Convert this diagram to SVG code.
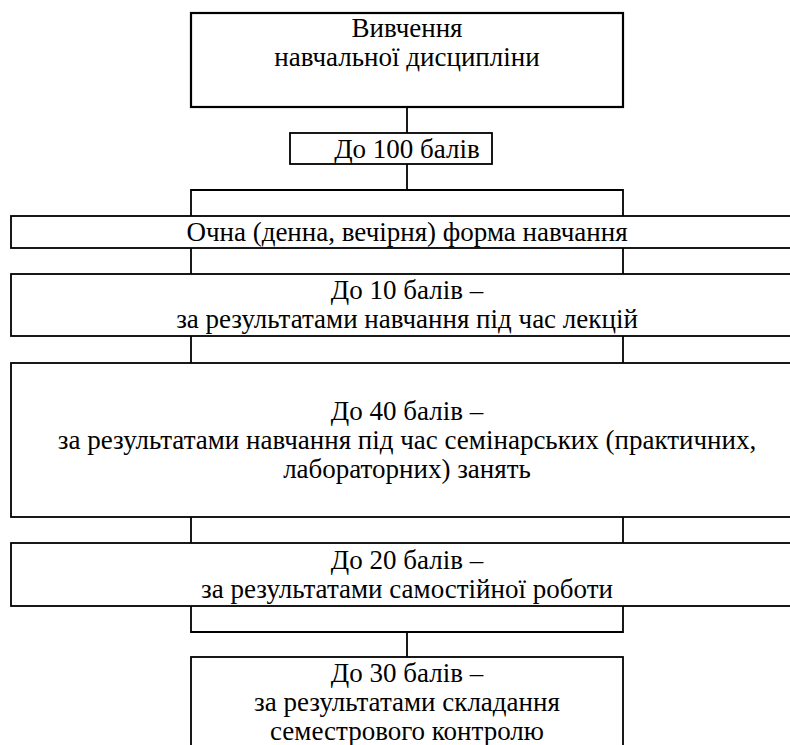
<svg xmlns="http://www.w3.org/2000/svg" width="790" height="745" viewBox="0 0 790 745">
<style>
.b{fill:#fff;stroke:#000;stroke-width:1.8}
.c{fill:none;stroke:#000;stroke-width:1.8}
.t{font-family:"Liberation Serif","Times New Roman","DejaVu Serif",serif;font-size:27px;fill:#000;text-anchor:middle}
</style>
<rect width="790" height="745" fill="#fff"/>
<g id="connectors">
<line class="c" x1="407" y1="107" x2="407" y2="133"/>
<line class="c" x1="407" y1="164" x2="407" y2="190"/>
<polyline class="c" points="191,216 191,190 623,190 623,216"/>
<line class="c" x1="191" y1="248" x2="191" y2="274"/>
<line class="c" x1="623" y1="248" x2="623" y2="274"/>
<line class="c" x1="191" y1="336" x2="191" y2="363"/>
<line class="c" x1="623" y1="336" x2="623" y2="363"/>
<line class="c" x1="191" y1="517" x2="191" y2="543"/>
<line class="c" x1="623" y1="517" x2="623" y2="543"/>
<polyline class="c" points="191,606 191,632 623,632 623,606"/>
<line class="c" x1="407" y1="632" x2="407" y2="657"/>
</g>
<g id="n1">
<rect class="b" x="191" y="13" width="432" height="94" style="stroke-width:2.2"/>
<text class="t" x="407" y="37">Вивчення</text>
<text class="t" x="407" y="66">навчальної дисципліни</text>
</g>
<g id="n2">
<rect class="b" x="290" y="133" width="202" height="31"/>
<text class="t" x="407" y="158">До 100 балів</text>
</g>
<g id="n3">
<rect class="b" x="11" y="216" width="792" height="32"/>
<text class="t" x="407" y="241">Очна (денна, вечірня) форма навчання</text>
</g>
<g id="n4">
<rect class="b" x="11" y="274" width="792" height="62"/>
<text class="t" x="407" y="299">До 10 балів –</text>
<text class="t" x="407" y="328">за результатами навчання під час лекцій</text>
</g>
<g id="n5">
<rect class="b" x="11" y="363" width="792" height="154"/>
<text class="t" x="407" y="420">До 40 балів –</text>
<text class="t" x="407" y="449">за результатами навчання під час семінарських (практичних,</text>
<text class="t" x="407" y="478">лабораторних) занять</text>
</g>
<g id="n6">
<rect class="b" x="11" y="543" width="792" height="63"/>
<text class="t" x="407" y="569">До 20 балів –</text>
<text class="t" x="407" y="598">за результатами самостійної роботи</text>
</g>
<g id="n7">
<rect class="b" x="191" y="657" width="432" height="100"/>
<text class="t" x="407" y="682">До 30 балів –</text>
<text class="t" x="407" y="711">за результатами складання</text>
<text class="t" x="407" y="740">семестрового контролю</text>
</g>
</svg>
